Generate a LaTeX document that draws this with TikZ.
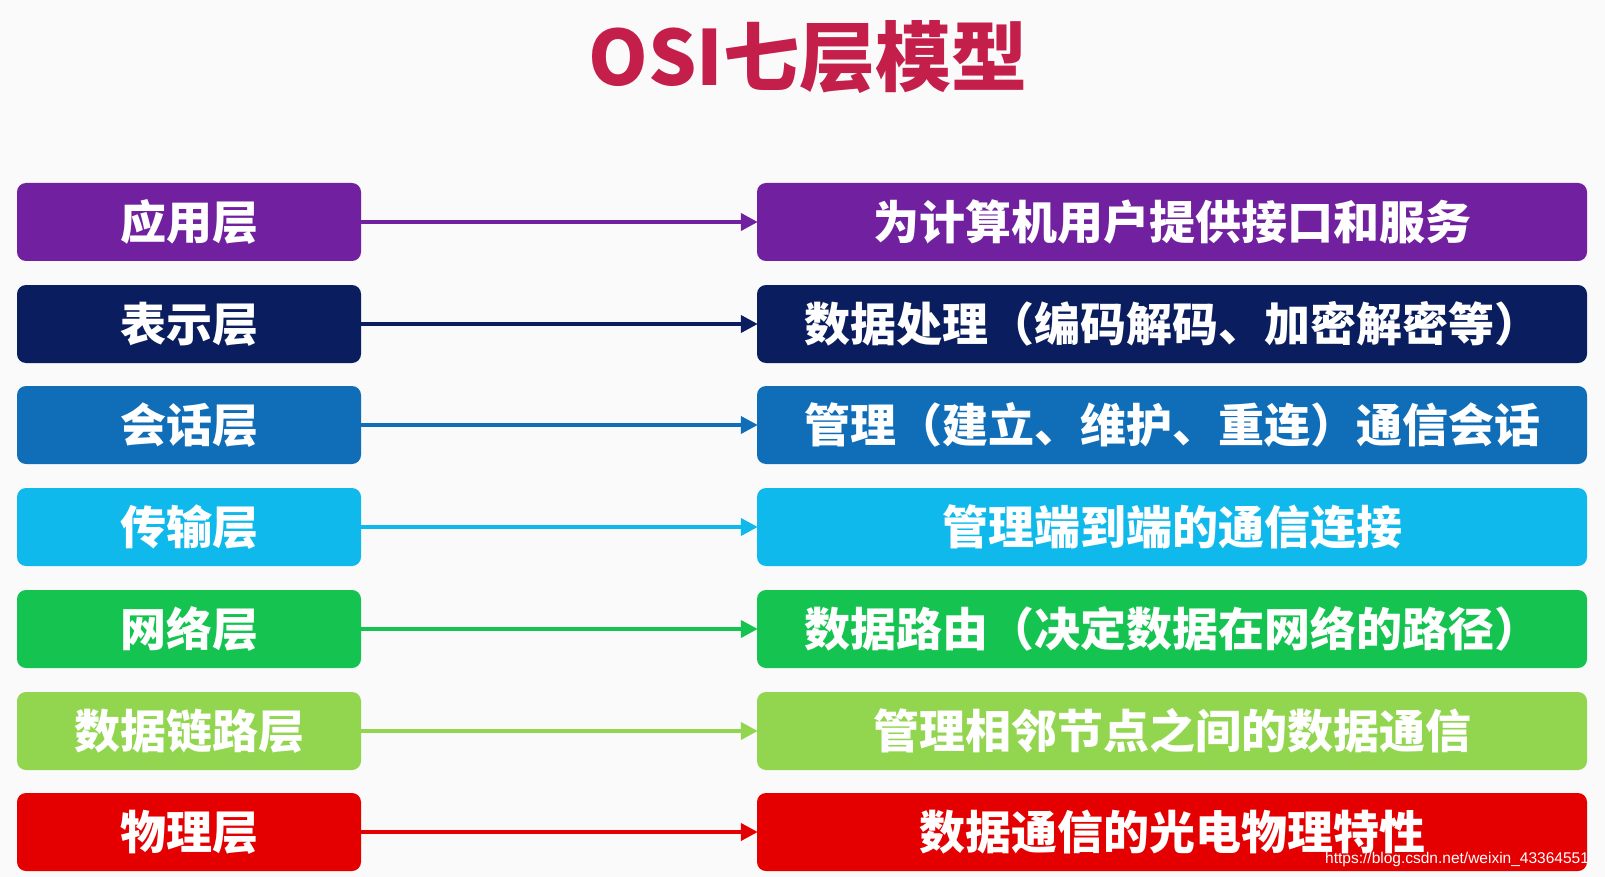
\documentclass[tikz,border=0pt]{standalone}
\usepackage{fontspec}
\newfontfamily\cjk{Noto Sans CJK SC}
\newfontfamily\wmfont{Liberation Sans}
\usetikzlibrary{arrows.meta}
\definecolor{ctitle}{RGB}{196,30,75}
\definecolor{cA}{RGB}{113,32,160}
\definecolor{cB}{RGB}{10,30,95}
\definecolor{cC}{RGB}{16,110,185}
\definecolor{cD}{RGB}{16,185,235}
\definecolor{cE}{RGB}{20,195,80}
\definecolor{cF}{RGB}{146,214,80}
\definecolor{cG}{RGB}{228,0,0}
\definecolor{bgc}{RGB}{250,250,250}
\tikzset{
  layerbox/.style={rounded corners=9pt, inner sep=0pt, minimum height=78pt,
    text=white, font=\cjk\bfseries\fontsize{46}{50}\selectfont},
  leftbox/.style={layerbox, minimum width=344pt},
  rightbox/.style={layerbox, minimum width=830pt},
  arr/.style={line width=4pt, -{Triangle[length=17pt,width=17pt]}, shorten >=-1pt},
}
\begin{document}
\begin{tikzpicture}[x=1pt,y=-1pt]
\fill[bgc] (0,0) rectangle (1605,877);
\useasboundingbox (0,0) rectangle (1605,877);
\node[text=ctitle, font=\cjk\bfseries\fontsize{76}{80}\selectfont] (title) at (808,57) {OSI七层模型};
\foreach \n/\y/\c/\l/\r in {
  1/222/cA/应用层/为计算机用户提供接口和服务,
  2/324/cB/表示层/数据处理（编码解码、加密解密等）,
  3/425/cC/会话层/管理（建立、维护、重连）通信会话,
  4/527/cD/传输层/管理端到端的通信连接,
  5/629/cE/网络层/数据路由（决定数据在网络的路径）,
  6/731/cF/数据链路层/管理相邻节点之间的数据通信,
  7/832/cG/物理层/数据通信的光电物理特性}{
  \node[leftbox, fill=\c] (L\n) at (189,\y) {\l};
  \node[rightbox, fill=\c] (R\n) at (1172,\y) {\r};
  \draw[arr, draw=\c, fill=\c] (L\n.east) -- (R\n.west);
}
\node[anchor=base west, inner sep=0pt, text=white, font=\wmfont\fontsize{15.5}{18}\selectfont] (wm) at (1325,863) {https://blog.csdn.net/weixin\_43364551};
\end{tikzpicture}
\end{document}
